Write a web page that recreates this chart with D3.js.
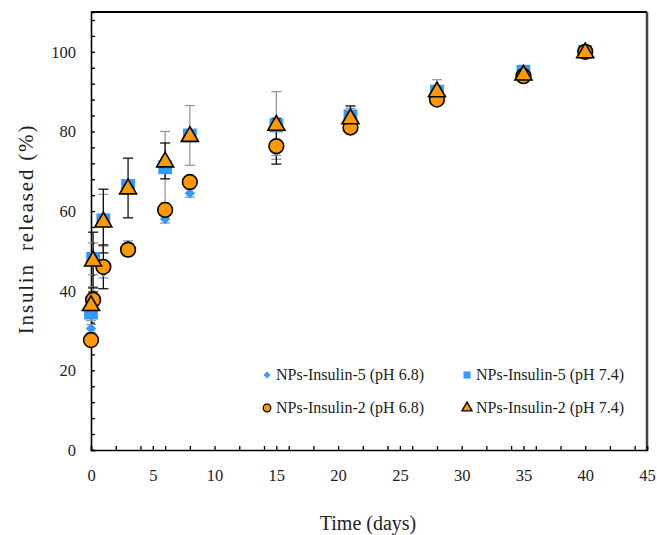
<!DOCTYPE html>
<html>
<head>
<meta charset="utf-8">
<script src="https://cdn.jsdelivr.net/npm/d3@7"></script>
<style>
  body { margin: 0; background: #fff; }
  text { font-family: "Liberation Serif", "Times New Roman", serif; fill: #222; }
</style>
</head>
<body>
<script>
// sampling times (days)
const days = [0, 0.17, 1, 3, 6, 8, 15, 21, 28, 35, 40];

// % insulin released
const ins5ph68 = [30.5, 38, 44.7, 51.5, 58, 64.5, 75, 82, 88, 94, 100];
const ins5ph68Err = [1, 3, 1.5, 1, 1, 1, 1, 1, 1, 1, 0.5];
const ins5ph74 = [34.5, 48, 57.7, 66.3, 71, 79, 81.5, 83.8, 90, 95, 100];
const ins5ph74Err = [2, 4, 6.5, 1, 9, 7.5, 8.5, 2, 3, 1, 1];
const ins2ph68 = [27.6, 37.7, 46, 50.3, 60.3, 67.3, 76.3, 81, 88, 93.9, 100];
const ins2ph68Err = [1, 2, 5.5, 1.5, 1, 1, 4.5, 1, 1, 1, 0.5];
const ins2ph74 = [36.5, 47.7, 57.5, 65.8, 72.6, 79, 81.8, 83.4, 90.2, 94.4, 100];
const ins2ph74Err = [1.5, 7, 8, 7.5, 4.5, 1, 1.5, 3, 1, 1, 0.5];

const seriesNames = ['NPs-Insulin-5 (pH 6.8)', 'NPs-Insulin-5 (pH 7.4)',
                     'NPs-Insulin-2 (pH 6.8)', 'NPs-Insulin-2 (pH 7.4)'];

const xTickLabels = [0, 5, 10, 15, 20, 25, 30, 35, 40, 45];
const yTickLabels = [0, 20, 40, 60, 80, 100];

const W = 657, H = 535;
const svg = d3.select('body').append('svg').attr('width', W).attr('height', H);

const x = d3.scaleLinear().domain([0, 45]).range([91, 647]);
const y = d3.scaleLinear().domain([0, 110]).range([450, 12]);

// series definitions
const blue = '#3399ff', orange = '#ff9900';
const series = [
  { name: seriesNames[0], vals: ins5ph68, err: ins5ph68Err, sym: d3.symbolDiamond2, size: 70, fill: blue, stroke: 'none', bar: '#999' },
  { name: seriesNames[1], vals: ins5ph74, err: ins5ph74Err, sym: d3.symbolSquare, size: 190, fill: blue, stroke: 'none', bar: '#999' },
  { name: seriesNames[2], vals: ins2ph68, err: ins2ph68Err, sym: d3.symbolCircle, size: 170, fill: orange, stroke: '#000', bar: '#111' },
  { name: seriesNames[3], vals: ins2ph74, err: ins2ph74Err, sym: d3.symbolTriangle, size: 125, fill: orange, stroke: '#000', bar: '#111' }
];

// frame: top + right
svg.append('line').attr('x1', x(0)).attr('x2', x(45)).attr('y1', y(110)).attr('y2', y(110))
  .attr('stroke', '#000').attr('stroke-width', 2);
svg.append('line').attr('x1', x(45)).attr('x2', x(45)).attr('y1', y(110)).attr('y2', y(0))
  .attr('stroke', '#444').attr('stroke-width', 2.5);

// minor/major ticks (inside)
const yTicks = d3.range(0, 110, 4);
const xTicks = Array.from(new Set(d3.range(0, 46, 2).concat(d3.range(0, 46, 5)))).sort((a, b) => a - b);

svg.append('g').attr('transform', `translate(${x(0)},0)`)
  .call(d3.axisRight(y).tickValues(yTicks).tickSize(4).tickFormat(''))
  .call(g => g.select('.domain').attr('stroke', '#000').attr('stroke-width', 1.6))
  .call(g => g.selectAll('.tick line').attr('stroke', '#000').attr('stroke-width', 1.3));

svg.append('g').attr('transform', `translate(0,${y(0)})`)
  .call(d3.axisTop(x).tickValues(xTicks).tickSize(4).tickFormat(''))
  .call(g => g.select('.domain').attr('stroke', '#000').attr('stroke-width', 1.6))
  .call(g => g.selectAll('.tick line').attr('stroke', '#000').attr('stroke-width', 1.3));

// tick labels
svg.append('g').attr('transform', `translate(${x(0)},0)`)
  .call(d3.axisLeft(y).tickValues(yTickLabels).tickSize(0).tickPadding(15))
  .call(g => g.select('.domain').remove())
  .call(g => g.selectAll('text').style('font-size', '16.5px').style('font-family', '"Liberation Serif", serif').attr('fill', '#222'));

svg.append('g').attr('transform', `translate(0,${y(0)})`)
  .call(d3.axisBottom(x).tickValues(xTickLabels).tickSize(0).tickPadding(19))
  .call(g => g.select('.domain').remove())
  .call(g => g.selectAll('text').style('font-size', '16.5px').style('font-family', '"Liberation Serif", serif').attr('fill', '#222'));

// axis titles
svg.append('text').attr('x', 368).attr('y', 530).attr('text-anchor', 'middle')
  .style('font-size', '20px').text('Time (days)');
svg.append('text').attr('transform', 'translate(33,229) rotate(-90)').attr('text-anchor', 'middle')
  .style('font-size', '21px').style('letter-spacing', '1.8px').text('Insulin\u2002released (%)');

// error bars
series.forEach(s => {
  const g = svg.append('g');
  days.forEach((d, i) => {
    const cx = x(d), lo = y(s.vals[i] - s.err[i]), hi = y(s.vals[i] + s.err[i]);
    g.append('line').attr('x1', cx).attr('x2', cx).attr('y1', lo).attr('y2', hi)
      .attr('stroke', s.bar).attr('stroke-width', 1.3);
    [lo, hi].forEach(yy => g.append('line').attr('x1', cx - 5).attr('x2', cx + 5)
      .attr('y1', yy).attr('y2', yy).attr('stroke', s.bar).attr('stroke-width', 1.3));
  });
});

// markers
series.forEach(s => {
  svg.append('g').selectAll('path').data(days).join('path')
    .attr('transform', (d, i) => `translate(${x(d)},${y(s.vals[i]) + (s.sym === d3.symbolTriangle ? 1 : 0)})`)
    .attr('d', d3.symbol().type(s.sym).size(s.size))
    .attr('fill', s.fill).attr('stroke', s.stroke).attr('stroke-width', 1.6);
});

// legend
const legendPos = [[267, 375], [467, 375], [267, 408], [467, 408]];
const legendSize = [30, 50, 45, 45];
series.forEach((s, i) => {
  const [lx, ly] = legendPos[i];
  svg.append('path').attr('transform', `translate(${lx},${ly})`)
    .attr('d', d3.symbol().type(s.sym).size(legendSize[i]))
    .attr('fill', s.fill).attr('stroke', s.stroke).attr('stroke-width', 1.3);
  svg.append('text').attr('x', lx + 9).attr('y', ly + 5).style('font-size', '16px').text(s.name);
});
</script>
</body>
</html>
